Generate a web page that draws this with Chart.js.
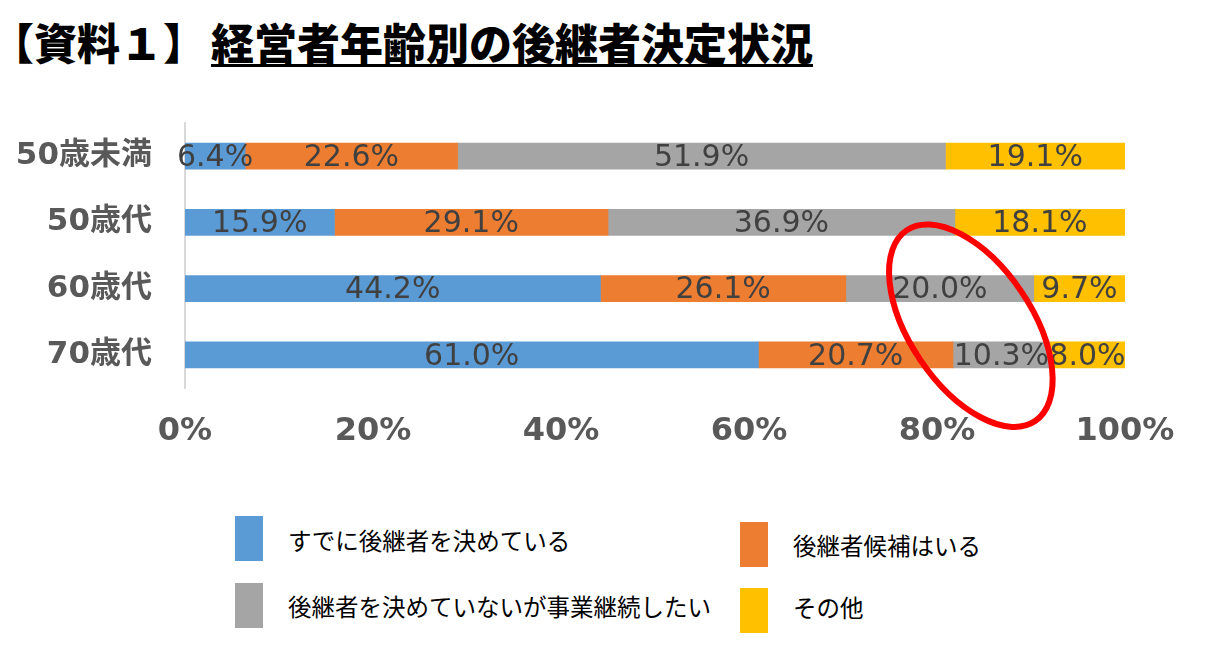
<!DOCTYPE html>
<html>
<head>
<meta charset="utf-8">
<script src="https://cdn.jsdelivr.net/npm/chart.js@4/dist/chart.umd.min.js"></script>
<style>
  body { margin:0; background:#fff; width:1224px; height:656px; position:relative; overflow:hidden; }
  .title { position:absolute; top:20px; font-family:"Noto Sans CJK JP"; font-weight:900; font-size:43px; line-height:43px; color:#000; white-space:nowrap; }
  .title.main { border-bottom:3px solid #000; padding-bottom:1px; }
  #wrap { position:absolute; left:0; top:95px; width:1224px; height:380px; }
  .lg-box { position:absolute; width:28px; height:45px; }
  .lg-text { position:absolute; font-family:"Noto Sans CJK JP"; font-size:23.5px; color:#000; line-height:24px; white-space:nowrap; }
</style>
</head>
<body>
<div class="title" style="left:-9px">【資料１】</div>
<div class="title main" style="left:211px">経営者年齢別の後継者決定状況</div>
<div id="wrap"><canvas id="myChart" width="1224" height="380"></canvas></div>
<div id="legend"></div>
<script>
// data
const categories = ['50歳未満', '50歳代', '60歳代', '70歳代'];
const seriesNames = ['すでに後継者を決めている', '後継者候補はいる', '後継者を決めていないが事業継続したい', 'その他'];
const decided = [6.4, 15.9, 44.2, 61.0];
const candidate = [22.6, 29.1, 26.1, 20.7];
const notDecided = [51.9, 36.9, 20.0, 10.3];
const other = [19.1, 18.1, 9.7, 8.0];
const xTicks = [0, 20, 40, 60, 80, 100];

const colors = ['#5B9BD5', '#ED7D31', '#A5A5A5', '#FFC000'];
const values = [decided, candidate, notDecided, other];

// labels in each bar
const barLabels = {
  id: 'barLabels',
  afterDatasetsDraw(chart) {
    const ctx = chart.ctx;
    ctx.save();
    ctx.font = '30px "DejaVu Sans"';
    ctx.fillStyle = '#404040';
    ctx.textAlign = 'center';
    ctx.textBaseline = 'middle';
    chart.data.datasets.forEach((ds, i) => {
      chart.getDatasetMeta(i).data.forEach((bar, j) => {
        const c = bar.getCenterPoint();
        ctx.fillText(ds.data[j].toFixed(1) + '%', c.x, c.y + 2);
      });
    });
    ctx.restore();
  }
};

// red ellipse marking the 60/70 rows
const redCircle = {
  id: 'redCircle',
  afterDraw(chart) {
    const ctx = chart.ctx;
    const cx = chart.scales.x.getPixelForValue(83.6);
    const cy = chart.scales.y.getPixelForValue(2.56);
    ctx.save();
    ctx.strokeStyle = '#FF0000';
    ctx.lineWidth = 6;
    ctx.beginPath();
    ctx.ellipse(cx, cy, 61, 115, -34 * Math.PI / 180, 0, Math.PI * 2);
    ctx.stroke();
    ctx.restore();
  }
};

const data = {
  labels: categories,
  datasets: values.map((v, i) => ({
    label: seriesNames[i],
    data: v,
    backgroundColor: colors[i],
    borderWidth: 0,
    barThickness: 26,
  }))
};

const config = {
  type: 'bar',
  data: data,
  options: {
    indexAxis: 'y',
    responsive: false,
    animation: false,
    layout: { padding: { top: 28, right: 99, left: 0, bottom: 0 } },
    scales: {
      x: {
        stacked: true,
        min: 0,
        max: 100,
        afterBuildTicks: s => { s.ticks = xTicks.map(v => ({ value: v })); },
        afterFit: s => { s.height = 87; },
        grid: { display: false, drawTicks: false },
        border: { display: false },
        ticks: {
          padding: 24,
          color: '#595959',
          font: { family: '"DejaVu Sans", "Noto Sans CJK JP"', size: 32, weight: 'bold' },
          callback: v => v + '%'
        }
      },
      y: {
        stacked: true,
        afterFit: s => { s.width = 185; s.paddingTop = 0; s.paddingBottom = 0; },
        grid: { display: false, drawTicks: false },
        border: { display: true, color: '#D9D9D9', width: 2 },
        ticks: {
          padding: 33,
          color: '#595959',
          font: { family: '"DejaVu Sans", "Noto Sans CJK JP"', size: 31, weight: 'bold' }
        }
      }
    },
    plugins: {
      legend: { display: false },
      tooltip: { enabled: false }
    }
  },
  plugins: [barLabels, redCircle]
};

const myChart = new Chart(document.getElementById('myChart'), config);

// legend (2 x 2)
const legendPos = [
  { bx: 235, by: 516, ty: 528 },
  { bx: 740, by: 522, ty: 533 },
  { bx: 235, by: 583, ty: 594 },
  { bx: 740, by: 588, ty: 595 },
];
const legend = document.getElementById('legend');
seriesNames.forEach((name, i) => {
  const p = legendPos[i];
  const box = document.createElement('div');
  box.className = 'lg-box';
  box.style.left = p.bx + 'px';
  box.style.top = p.by + 'px';
  box.style.background = colors[i];
  legend.appendChild(box);
  const t = document.createElement('div');
  t.className = 'lg-text';
  t.style.left = (p.bx + 53) + 'px';
  t.style.top = p.ty + 'px';
  t.textContent = name;
  legend.appendChild(t);
});
</script>
</body>
</html>
